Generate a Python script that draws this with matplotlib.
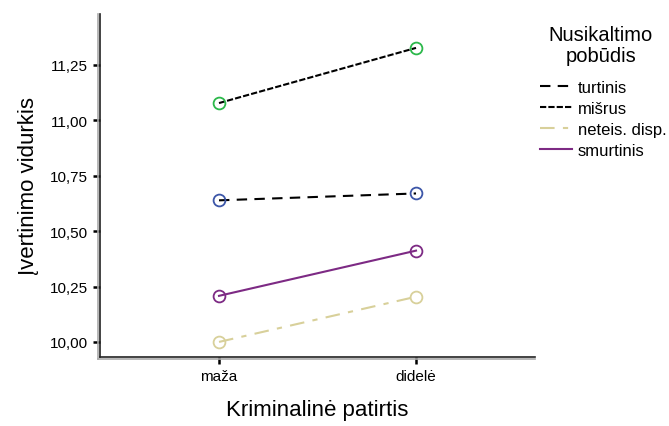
import matplotlib
matplotlib.use('Agg')
import matplotlib.pyplot as plt
from matplotlib.ticker import FuncFormatter
from matplotlib.transforms import offset_copy

plt.rcParams['font.family'] = ['Liberation Sans', 'DejaVu Sans']

# duomenys
kategorijos = ['maža', 'didelė']
turtinis = [10.639, 10.670]
misrus = [11.078, 11.327]
neteis = [10.0, 10.204]
smurtinis = [10.208, 10.412]
y_ticks = [10.0, 10.25, 10.5, 10.75, 11.0, 11.25]

x = list(range(len(kategorijos)))

fig = plt.figure(figsize=(6.69, 4.27), dpi=100)
ax = fig.add_axes([0.1495, 0.1616, 0.6502, 0.8033])

# linijos
ax.plot(x, turtinis, color='black', lw=1.5, dashes=(5, 3.5), label='turtinis')
ax.plot(x, misrus, color='black', lw=1.5, dashes=(3, 1), label='mišrus')
ax.plot(x, neteis, color='#d8d09a', lw=1.5, dashes=(7, 4, 2.5, 4), label='neteis. disp.')
ax.plot(x, smurtinis, color='#7d2a84', lw=1.5, label='smurtinis')

# taškai
for vals, c in [(turtinis, '#3c56a8'), (misrus, '#2bb84a'),
                (neteis, '#d8d09a'), (smurtinis, '#7d2a84')]:
    ax.plot(x, vals, ls='none', marker='o', ms=8.5, mfc='none', mec=c, mew=1.3)

ax.set_xlim(-0.604, 1.604)
ax.set_ylim(9.932, 11.48)
ax.set_xticks(x)
ax.set_xticklabels(kategorijos)
ax.set_yticks(y_ticks)
ax.yaxis.set_major_formatter(FuncFormatter(lambda v, p: f'{v:.2f}'.replace('.', ',')))
ax.tick_params(axis='both', length=5, width=1.8, labelsize=11, colors='black')

for s in ['top', 'right']:
    ax.spines[s].set_visible(False)
for s in ['left', 'bottom']:
    ax.spines[s].set_color('#222222')
    ax.spines[s].set_linewidth(1.2)

# pilkas ašių šešėlis
tr_l = offset_copy(ax.transAxes, fig=fig, x=-2, y=0, units='dots')
tr_b = offset_copy(ax.transAxes, fig=fig, x=0, y=-2, units='dots')
ax.plot([0, 0], [-0.005, 1], color='#aaaaaa', lw=1.2, transform=tr_l, clip_on=False)
ax.plot([-0.005, 1], [0, 0], color='#aaaaaa', lw=1.2, transform=tr_b, clip_on=False)

ax.set_xlabel('Kriminalinė patirtis', fontsize=16, labelpad=12)
ax.set_ylabel('Įvertinimo vidurkis', fontsize=16, labelpad=8)

fig.text(601 / 669, (427 - 46) / 427, 'Nusikaltimo\npobūdis', ha='center', va='center',
         fontsize=14.5, multialignment='center', linespacing=1.1)

leg = ax.legend(loc='upper left', bbox_to_anchor=(540 / 669, (427 - 81) / 427),
                bbox_transform=fig.transFigure, frameon=False, fontsize=12,
                handlelength=1.9, handletextpad=0.35, labelspacing=0.36,
                borderpad=0, borderaxespad=0)

fig.savefig('out.png', dpi=100)
